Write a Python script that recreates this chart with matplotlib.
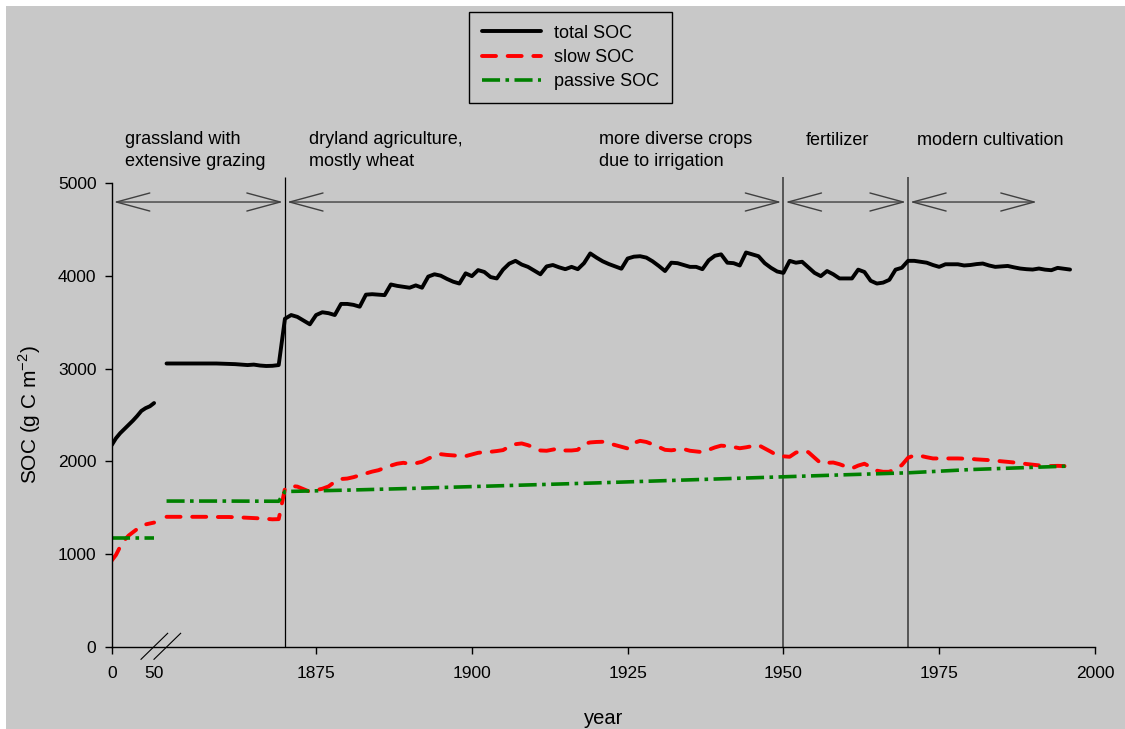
import numpy as np
import matplotlib
matplotlib.use('Agg')
import matplotlib.pyplot as plt
from matplotlib.patches import Rectangle

plt.rcParams['font.family'] = ['Liberation Sans', 'DejaVu Sans']
plt.rcParams['mathtext.fontset'] = 'custom'
plt.rcParams['mathtext.rm'] = 'Liberation Sans'

########## Data ##########
# spin-up (model years 0..50)
spin_years    = [0, 5, 10, 15, 20, 25, 30, 35, 40, 45, 50]
total_spin    = [2176, 2250, 2305, 2350, 2395, 2440, 2490, 2545, 2575, 2595, 2630]
slow_spin     = [930, 990, 1080, 1150, 1200, 1235, 1270, 1295, 1320, 1330, 1340]
passive_spin_years = [0, 25, 50]
passive_spin  = [1175, 1175, 1175]

# calendar years 1851..1996
years = np.arange(1851, 1997)
total_soc = [3057, 3057, 3057, 3057, 3057, 3057, 3057, 3057, 3057, 3055,
             3052, 3050, 3045, 3040, 3045, 3035, 3030, 3032, 3040,
             3540, 3580, 3560, 3520, 3480, 3580, 3610, 3600, 3580, 3700,
             3700, 3690, 3670, 3800, 3805, 3800, 3795, 3910, 3895, 3885,
             3875, 3900, 3875, 3995, 4020, 4005, 3970, 3940, 3920, 4030,
             4000, 4065, 4045, 3990, 3975, 4070, 4135, 4165, 4125, 4100,
             4060, 4020, 4105, 4120, 4095, 4075, 4100, 4075, 4140, 4245,
             4200, 4160, 4130, 4105, 4080, 4190, 4210, 4215, 4200, 4160,
             4110, 4055, 4145, 4140, 4120, 4100, 4100, 4075, 4170, 4220,
             4235, 4145, 4140, 4115, 4255, 4235, 4215, 4140, 4090, 4050,
             4035, 4165, 4145, 4155, 4095, 4035, 4000, 4055, 4020, 3975,
             3975, 3975, 4070, 4045, 3950, 3920, 3930, 3960, 4070, 4090,
             4165, 4165, 4155, 4145, 4120, 4100, 4128, 4128, 4128, 4115,
             4120, 4130, 4136, 4115, 4100, 4105, 4110, 4095, 4082, 4075,
             4071, 4082, 4070, 4064, 4089, 4080, 4071]
slow_soc = [1402, 1402, 1402, 1402, 1402, 1402, 1402, 1402, 1400, 1400,
            1400, 1398, 1395, 1392, 1390, 1385, 1380, 1375, 1377,
            1705, 1735, 1728, 1700, 1672, 1690, 1705, 1730, 1780, 1810,
            1815, 1830, 1850, 1870, 1890, 1905, 1930, 1955, 1975, 1985,
            1975, 1980, 1996, 2030, 2060, 2078, 2070, 2065, 2060, 2057,
            2075, 2093, 2100, 2104, 2112, 2122, 2160, 2186, 2194, 2175,
            2150, 2118, 2115, 2128, 2140, 2118, 2118, 2125, 2190, 2205,
            2210, 2212, 2195, 2176, 2158, 2140, 2200, 2222, 2210, 2185,
            2155, 2125, 2120, 2128, 2133, 2115, 2108, 2100, 2125, 2151,
            2170, 2165, 2155, 2142, 2152, 2165, 2176, 2140, 2104, 2065,
            2055, 2050, 2095, 2115, 2100, 2040, 1980, 1985, 1988, 1970,
            1945, 1925, 1955, 1975, 1940, 1900, 1888, 1888, 1920, 1960,
            2039, 2065, 2060, 2045, 2032, 2032, 2032, 2032, 2032, 2030,
            2028, 2022, 2018, 2014, 2008, 2002, 1995, 1988, 1982, 1972,
            1965, 1958, 1950, 1950, 1952, 1950, 1942]
passive_years = [1851, 1860, 1869, 1870, 1880, 1890, 1900, 1910, 1920, 1930,
                 1940, 1950, 1960, 1970, 1980, 1990, 1996]
passive_soc   = [1572, 1572, 1570, 1675, 1690, 1708, 1728, 1748, 1768, 1790,
                 1812, 1834, 1856, 1877, 1912, 1936, 1950]

# land use periods
period_bounds = [0, 1870, 1950, 1970, 1991]
period_lines  = [1870, 1950, 1970]
period_text   = ['grassland with\nextensive grazing', 'dryland agriculture,\nmostly wheat',
                 'more diverse crops\ndue to irrigation', 'fertilizer', 'modern cultivation']
period_text_x = [15.4, 1873.9, 1920.4, 1953.6, 1971.4]

xtick_major = [0, 1875, 1900, 1925, 1950, 1975, 2000]


########## broken x axis ##########
def fwd(x):
    x = np.asarray(x, dtype=float)
    return np.where(x <= 50, 1842.2 + 0.136 * x,
                    np.where(x < 1851, 1849.0 + (x - 50) * 2.0 / 1801, x))


def inv(u):
    u = np.asarray(u, dtype=float)
    return np.where(u <= 1849.0, (u - 1842.2) / 0.136,
                    np.where(u < 1851, 50 + (u - 1849.0) * 1801 / 2.0, u))


bg = '#c8c8c8'
fig = plt.figure(figsize=(11.25, 7.29), dpi=100, facecolor='white')
fig.patches.append(Rectangle((6 / 1125, 0), 1, 1 - 6 / 729, transform=fig.transFigure,
                             facecolor=bg, edgecolor='none', zorder=-10))
ax = fig.add_axes([0.0993, 0.1129, 0.8740, 0.6354])
ax.set_facecolor('none')
ax.set_xscale('function', functions=(fwd, inv))

lw = 2.8
ax.plot(spin_years, total_spin, color='black', lw=lw, solid_joinstyle='round', solid_capstyle='round')
ax.plot(spin_years, slow_spin, color='red', lw=lw, ls=(0, (3.6, 3.0)), dash_capstyle='round')
ax.plot(passive_spin_years, passive_spin, color='green', lw=2.6, ls=(0, (5.0, 1.5, 1.0, 1.5)))

ax.plot(years, total_soc, color='black', lw=lw, solid_joinstyle='round', solid_capstyle='round',
        label='total SOC')
ax.plot(years, slow_soc, color='red', lw=lw, ls=(0, (3.6, 3.0)), dash_capstyle='round',
        label='slow SOC')
ax.plot(passive_years, passive_soc, color='green', lw=2.6, ls=(0, (5.0, 1.5, 1.0, 1.5)),
        label='passive SOC')

# period boundaries, arrows and labels
ax.vlines(period_lines, 0, 5070, colors=['black', '#555555', '#555555'], lw=[0.9, 1.4, 1.4],
          clip_on=False, zorder=1)
for a, b in zip(period_bounds[:-1], period_bounds[1:]):
    ax.annotate('', xy=(b, 4800), xytext=(a, 4800),
                arrowprops=dict(arrowstyle='<->,head_length=2.4,head_width=0.65',
                                color='#404040', lw=1, shrinkA=1.5, shrinkB=1.5,
                                mutation_scale=10))
for t, x in zip(period_text, period_text_x):
    # baseline of the last line is placed at y
    y = 5189 if '\n' in t else 5412
    ax.text(x, y, t, fontsize=13, ha='left', va='baseline', linespacing=1.4, clip_on=False)

# axes
ax.set_xlim(0, 2000)
ax.set_ylim(0, 5000)
ax.set_xticks(xtick_major, labels=[str(v) for v in xtick_major])
ax.set_xticks([50], labels=['50'], minor=True)
ax.set_yticks(np.arange(0, 5001, 1000))
ax.tick_params(axis='both', which='major', length=5, width=1, labelsize=12.5, direction='out')
ax.tick_params(axis='x', which='major', pad=9)
ax.tick_params(axis='y', which='major', pad=6)
ax.tick_params(axis='x', which='minor', length=0, pad=14, labelsize=12.5)
for s in ['top', 'right']:
    ax.spines[s].set_visible(False)
for s in ['left', 'bottom']:
    ax.spines[s].set_linewidth(1)
ax.set_xlabel('year', fontsize=14.5, labelpad=20)
ax.set_ylabel('SOC (g C m$^{-2}$)', fontsize=15, labelpad=11)

# axis break marks
for x0 in [0.0298, 0.0430]:
    ax.plot([x0, x0 + 0.0271], [-0.0272, 0.0289], color='black', lw=0.8,
            transform=ax.transAxes, clip_on=False)

leg = ax.legend(loc='upper left', bbox_to_anchor=(0.4169, 0.9835), bbox_transform=fig.transFigure,
                borderaxespad=0, fontsize=13, frameon=True, fancybox=False, framealpha=1,
                facecolor=bg, edgecolor='black', handlelength=3.3, handletextpad=0.7,
                borderpad=0.7, labelspacing=0.4)
leg.get_frame().set_linewidth(1)

fig.savefig('out.png', dpi=100, facecolor='white')
